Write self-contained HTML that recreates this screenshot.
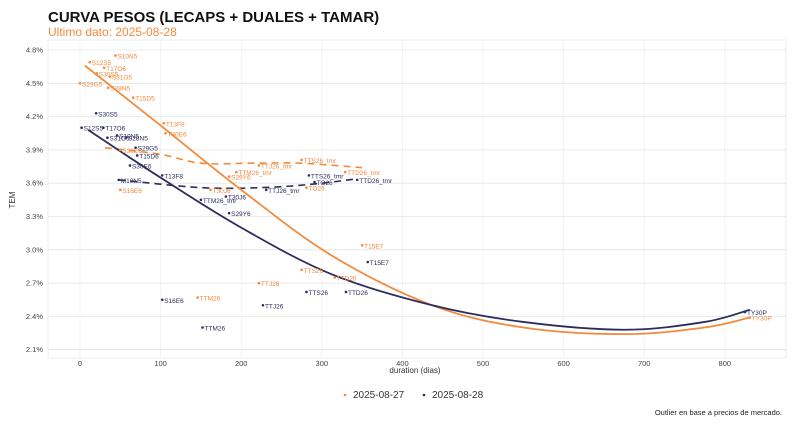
<!DOCTYPE html>
<html><head><meta charset="utf-8"><style>
body{margin:0;background:#fff;}
svg{font-family:"Liberation Sans",sans-serif;display:block}
</style></head><body>
<svg id="c" width="800" height="427">
<text x="48" y="22" font-size="15" font-weight="bold" fill="#111">CURVA PESOS (LECAPS + DUALES + TAMAR)</text>
<text x="48" y="36" font-size="12" fill="#f28a3c">Ultimo dato: 2025-08-28</text>
<rect x="48" y="40" width="738" height="318" fill="#fff" stroke="#eee"/>
<g id="grid"></g><g id="lines"></g><g id="pts"></g>
<text x="15" y="200" font-size="8" fill="#333" transform="rotate(-90 15 200)" text-anchor="middle">TEM</text>
<text x="415" y="373" font-size="8" fill="#333" text-anchor="middle">duration (dias)</text>
<g>
<circle cx="345" cy="395" r="1.3" fill="#f28a3c"/>
<text x="353" y="398" font-size="10" fill="#333">2025-08-27</text>
<circle cx="424" cy="395" r="1.3" fill="#2b2d5e"/>
<text x="432" y="398" font-size="10" fill="#333">2025-08-28</text>
</g>
<text x="782" y="415" font-size="7.5" fill="#222" text-anchor="end">Outlier en base a precios de mercado.</text>
</svg>
<script>
const xTicks=[0,100,200,300,400,500,600,700,800];
const yTicks=[2.1,2.4,2.7,3.0,3.3,3.6,3.9,4.2,4.5,4.8];
const orangeNames=["S12S5","S10N5","T17O6","S30S5","S31O5","S29G5","S28N5","T15D5","T13F8","T30E6","S30E6","S16E6","S29Y6","TTM26_tmr","TTJ26_tmr","TTS26_tmr","TTD26_tmr","TO26","T30J6","T15E7","TTS26","TTD26","TTJ26","TTM26","TY30P"];
const orangeDays=[12,44,30,21,37,0,35,66,104,106,50,50,185,194,222,275,329,281,162,350,275,316,222,146,831];
const orangeTem=[4.69,4.75,4.64,4.59,4.56,4.50,4.46,4.37,4.14,4.05,3.90,3.54,3.66,3.70,3.76,3.81,3.70,3.56,3.54,3.04,2.82,2.75,2.70,2.57,2.39];
const navyNames=["S30S5","S12S5","T17O6","S31O5","S10N5","S28N5","S29G5","T15D6","S30E6","T13F8","M10N5","TTM26_tmr","T30J6","S29Y6","TTJ26_tmr","TTS26_tmr","TO26","TTD26_tmr","T15E7","TTS26","TTD26","TTJ26","S16E6","TTM26","TY30P"];
const navyDays=[20,2,29,34,46,57,69,71,62,102,48,150,181,185,231,284,291,344,357,281,330,227,102,152,825];
const navyTem=[4.23,4.10,4.10,4.01,4.03,4.01,3.92,3.85,3.76,3.67,3.63,3.45,3.48,3.33,3.54,3.67,3.61,3.63,2.89,2.62,2.62,2.50,2.55,2.30,2.44];
const orangeFitDays=[6,100,200,312,437,550,675,775,831];
const orangeFitTem=[4.66,4.12,3.54,2.95,2.50,2.30,2.24,2.30,2.39];
const navyFitDays=[10,100,200,312,437,550,675,775,831];
const navyFitTem=[4.08,3.65,3.20,2.78,2.50,2.35,2.28,2.35,2.46];
const orangeDashDays=[31,100,150,212,275,350];
const orangeDashTem=[3.92,3.86,3.78,3.78,3.78,3.74];
const navyDashDays=[48,150,225,287,344];
const navyDashTem=[3.63,3.56,3.56,3.59,3.64];

const X=d=>80+d*0.806, Y=v=>50+(4.8-v)*111;
const NS="http://www.w3.org/2000/svg";
function mk(p,t,a){const e=document.createElementNS(NS,t);for(const k in a)e.setAttribute(k,a[k]);document.getElementById(p).appendChild(e);return e;}
xTicks.forEach(t=>{
 const l=mk("grid","line",{x1:X(t),x2:X(t),y1:40,y2:358,stroke:"#ececec","stroke-width":0.6});
 
 
 const tx=mk("grid","text",{x:X(t),y:366,"font-size":7.5,fill:"#444","text-anchor":"middle"});tx.textContent=t;
 
 
});
yTicks.forEach(t=>{
 const l=mk("grid","line",{x1:48,x2:786,y1:Y(t),y2:Y(t),stroke:"#e4e4e4","stroke-width":0.8});
 
 
 const tx=mk("grid","text",{x:43,y:Y(t)+2.5,"font-size":7.5,fill:"#444","text-anchor":"end"});tx.textContent=t.toFixed(1)+"%";
 
 
});
function smooth(ds,vs){const p=ds.map((d,i)=>[X(d),Y(vs[i])]);let s="M"+p[0];for(let i=0;i<p.length-1;i++){const a=p[i-1]||p[i],b=p[i],c=p[i+1],e=p[i+2]||c;s+=` C${b[0]+(c[0]-a[0])/6},${b[1]+(c[1]-a[1])/6} ${c[0]-(e[0]-b[0])/6},${c[1]-(e[1]-b[1])/6} ${c[0]},${c[1]}`;}return s;}
const od=mk("lines","path",{d:smooth(orangeDashDays,orangeDashTem),fill:"none",stroke:"#f28a3c","stroke-width":1.6,"stroke-dasharray":"7 5"});


const nd=mk("lines","path",{d:smooth(navyDashDays,navyDashTem),fill:"none",stroke:"#2b2d5e","stroke-width":1.6,"stroke-dasharray":"7 5"});


const of=mk("lines","path",{d:smooth(orangeFitDays,orangeFitTem),fill:"none",stroke:"#f28a3c","stroke-width":1.8});


const nf=mk("lines","path",{d:smooth(navyFitDays,navyFitTem),fill:"none",stroke:"#2b2d5e","stroke-width":1.8});


function pts(names,ds,vs,col,key){names.forEach((n,i)=>{
 const c=mk("pts","circle",{cx:X(ds[i]),cy:Y(vs[i]),r:1.3,fill:col});
 
 
 const t=mk("pts","text",{x:X(ds[i])+2,y:Y(vs[i])+3,"font-size":6.5,fill:col});t.textContent=n;
 
 
});}
pts(orangeNames,orangeDays,orangeTem,"#f28a3c","orange");
pts(navyNames,navyDays,navyTem,"#2b2d5e","navy");
</script>
</body></html>
